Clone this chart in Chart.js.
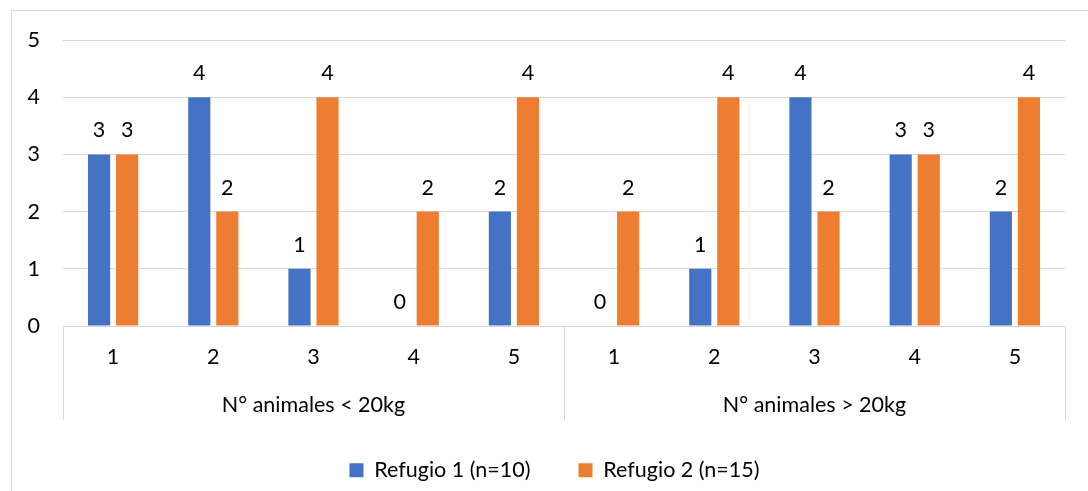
<!DOCTYPE html>
<html>
<head>
<meta charset="utf-8">
<script src="https://cdn.jsdelivr.net/npm/chart.js@4/dist/chart.umd.min.js"></script>
<style>
  html, body { margin: 0; padding: 0; background: #fff; }
  #wrap { width: 1088px; height: 491px; position: relative; }
</style>
</head>
<body>
<div id="wrap"><canvas id="barChart"></canvas></div>
<script>
const categories = ["1", "2", "3", "4", "5", "1", "2", "3", "4", "5"];
const groupLabels = ["N° animales < 20kg", "N° animales > 20kg"];
const groupSizes = [5, 5];
const refugio1 = [3, 4, 1, 0, 2, 0, 1, 4, 3, 2];
const refugio2 = [3, 2, 4, 2, 4, 2, 4, 2, 3, 4];
const seriesNames = ["Refugio 1 (n=10)", "Refugio 2 (n=15)"];
const yTicks = [0, 1, 2, 3, 4, 5];

const FONT = "Lato, 'Open Sans', sans-serif";
const FSIZE = 21.5;
const LINE = "#d9d9d9";

// cadre gris autour du graphique
const frame = {
	id: "frame",
	beforeDraw(chart) {
		const ctx = chart.ctx;
		ctx.save();
		ctx.strokeStyle = LINE;
		ctx.lineWidth = 1;
		ctx.strokeRect(11.5, 10.5, chart.width + 20, chart.height + 20);
		ctx.restore();
	},
};

// décale la légende pour la centrer comme dans Excel
const legendShift = {
	id: "legendShift",
	afterLayout(chart) {
		if (!chart.legend) return;
		chart.legend.left += 22;
		chart.legend.right += 22;
	},
};

// valeurs au-dessus des barres
const valueLabels = {
	id: "valueLabels",
	afterDatasetsDraw(chart) {
		const ctx = chart.ctx;
		ctx.save();
		ctx.font = FSIZE + "px " + FONT;
		ctx.fillStyle = "#000";
		ctx.textAlign = "center";
		ctx.textBaseline = "middle";
		chart.data.datasets.forEach(function (ds, i) {
			chart.getDatasetMeta(i).data.forEach(function (bar, j) {
				ctx.fillText(String(ds.data[j]), bar.x, bar.y - 24);
			});
		});
		ctx.restore();
	},
};

// axe à deux niveaux : séparateurs + libellés de groupe
const groupAxis = {
	id: "groupAxis",
	afterDraw(chart) {
		const ctx = chart.ctx;
		const x = chart.scales.x;
		const area = chart.chartArea;
		const bottom = 420;
		let bounds = [area.left];
		let idx = 0;
		groupSizes.forEach(function (n, g) {
			idx += n;
			if (g < groupSizes.length - 1) {
				bounds.push((x.getPixelForValue(idx - 1) + x.getPixelForValue(idx)) / 2);
			}
		});
		bounds.push(area.right);
		ctx.save();
		ctx.strokeStyle = LINE;
		ctx.lineWidth = 1;
		bounds.forEach(function (b) {
			const px = Math.round(b) + 0.5;
			ctx.beginPath();
			ctx.moveTo(px, area.bottom);
			ctx.lineTo(px, bottom);
			ctx.stroke();
		});
		ctx.font = FSIZE + "px " + FONT;
		ctx.fillStyle = "#000";
		ctx.textAlign = "center";
		ctx.textBaseline = "middle";
		groupLabels.forEach(function (label, g) {
			ctx.fillText(label, (bounds[g] + bounds[g + 1]) / 2, 405);
		});
		ctx.restore();
	},
};

const ctx = document.getElementById("barChart").getContext("2d");
const chart = new Chart(ctx, {
	type: "bar",
	data: {
		labels: categories,
		datasets: [
			{
				label: seriesNames[0],
				data: refugio1,
				backgroundColor: "#4472c4",
				borderWidth: 0,
			},
			{
				label: seriesNames[1],
				data: refugio2,
				backgroundColor: "#ed7d31",
				borderWidth: 0,
			},
		],
	},
	options: {
		responsive: true,
		maintainAspectRatio: false,
		animation: false,
		datasets: {
			bar: { categoryPercentage: 0.56, barPercentage: 0.79 },
		},
		layout: {
			padding: { top: 40, right: 23, left: 0, bottom: 0 },
		},
		scales: {
			x: {
				grid: { display: false },
				border: { display: true, color: LINE, width: 1 },
				ticks: {
					color: "#000",
					font: { family: FONT, size: FSIZE },
					padding: 10,
					maxRotation: 0,
					autoSkip: false,
				},
				afterFit: function (scale) {
					scale.height = 85.5;
				},
			},
			y: {
				min: 0,
				max: 5,
				afterBuildTicks: function (scale) {
					scale.ticks = yTicks.map(function (v) {
						return { value: v };
					});
				},
				grid: { color: LINE, lineWidth: 1, drawTicks: false },
				border: { display: false },
				ticks: {
					color: "#000",
					font: { family: FONT, size: FSIZE },
					padding: 23,
				},
				afterFit: function (scale) {
					scale.width = 63;
				},
			},
		},
		plugins: {
			legend: {
				position: "bottom",
				labels: {
					color: "#000",
					font: { family: FONT, size: FSIZE },
					boxWidth: 14,
					boxHeight: 14,
					padding: 48,
				},
			},
			tooltip: { enabled: false },
		},
	},
	plugins: [frame, legendShift, valueLabels, groupAxis],
});
</script>
</body>
</html>
